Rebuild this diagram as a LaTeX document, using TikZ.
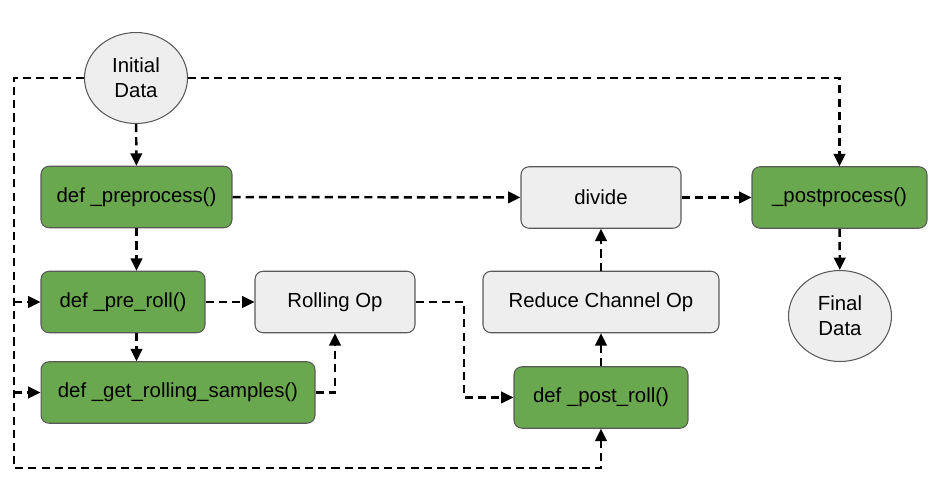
\documentclass[tikz,border=0pt]{standalone}
\usepackage{fontspec}
\setmainfont{Liberation Sans}
\usetikzlibrary{positioning,calc,arrows.meta,shapes.geometric}

\definecolor{fngreen}{HTML}{6AA84F}
\definecolor{opgray}{HTML}{EEEEEE}
\definecolor{edgegray}{HTML}{595959}

\begin{document}
\begin{tikzpicture}[x=0.02cm, y=-0.02cm,
	flow/.style={draw=black, line width=1.4pt, dash pattern=on 4.6pt off 2.9pt,
		-{Triangle[length=7pt,width=6.5pt]}}]
	\useasboundingbox (0,0) rectangle (948,501);
	\tikzstyle{every node}=[align=center, font=\fontsize{11.6}{14}\selectfont, text=black]
	\tikzstyle{fn}=[draw=edgegray, fill=fngreen, rounded corners=0.16cm, minimum height=1.23cm, inner sep=1pt, line width=0.6pt]
	\tikzstyle{op}=[draw=edgegray, fill=opgray, rounded corners=0.16cm, minimum height=1.23cm, inner sep=1pt, line width=0.6pt]
	\tikzstyle{data}=[draw=edgegray, fill=opgray, ellipse, minimum width=2.06cm, minimum height=1.82cm, inner sep=0pt, line width=0.6pt]

	% data
	\node[data] (init) at (136,78) {Initial\\Data};
	\node[data] (final) at (840,316) {Final\\Data};

	% functions
	\node[fn, minimum width=3.82cm] (pre) at (136.5,197) {def \_preprocess()};
	\node[fn, minimum width=3.28cm] (preroll) at (123,302) {def \_pre\_roll()};
	\node[fn, minimum width=5.48cm] (samples) at (178,392.5) {def \_get\_rolling\_samples()};
	\node[fn, minimum width=3.48cm] (postroll) at (601,397.5) {def \_post\_roll()};
	\node[fn, minimum width=3.5cm] (post) at (839.5,197.5) {\_postprocess()};

	% ops
	\node[op, minimum width=3.2cm] (roll) at (335,302) {Rolling Op};
	\node[op, minimum width=4.72cm] (reduce) at (601,302) {Reduce Channel Op};
	\node[op, minimum width=3.2cm] (divide) at (601,197.5) {divide};

	% corners
	\coordinate (lt) at (14,78);
	\coordinate (lb) at (14,468);
	\coordinate (rj) at (464,302);

	\draw[flow] (init) to (pre);
	\draw[flow] (pre.south) -- (pre.south |- preroll.north);
	\draw[flow] (pre.south |- preroll.south) -- (pre.south |- samples.north);
	\draw[flow] (pre) to (divide);
	\draw[flow] (divide) to (post);
	\draw[flow] (init.east) -| (post.north);
	\draw[flow] (post) to (final);
	\draw[flow] (preroll) to (roll);
	\draw[flow] (samples.east) -| (roll.south);
	\draw[flow] (roll.east) -- (rj) |- (postroll.west);
	\draw[flow] (postroll) to (reduce);
	\draw[flow] (reduce) to (divide);
	\draw[flow] (init.west) -- (lt) -- (lb) -| (postroll.south);
	\draw[flow] (lt |- preroll.west) -- (preroll.west);
	\draw[flow] (lt |- samples.west) -- (samples.west);
\end{tikzpicture}
\end{document}
